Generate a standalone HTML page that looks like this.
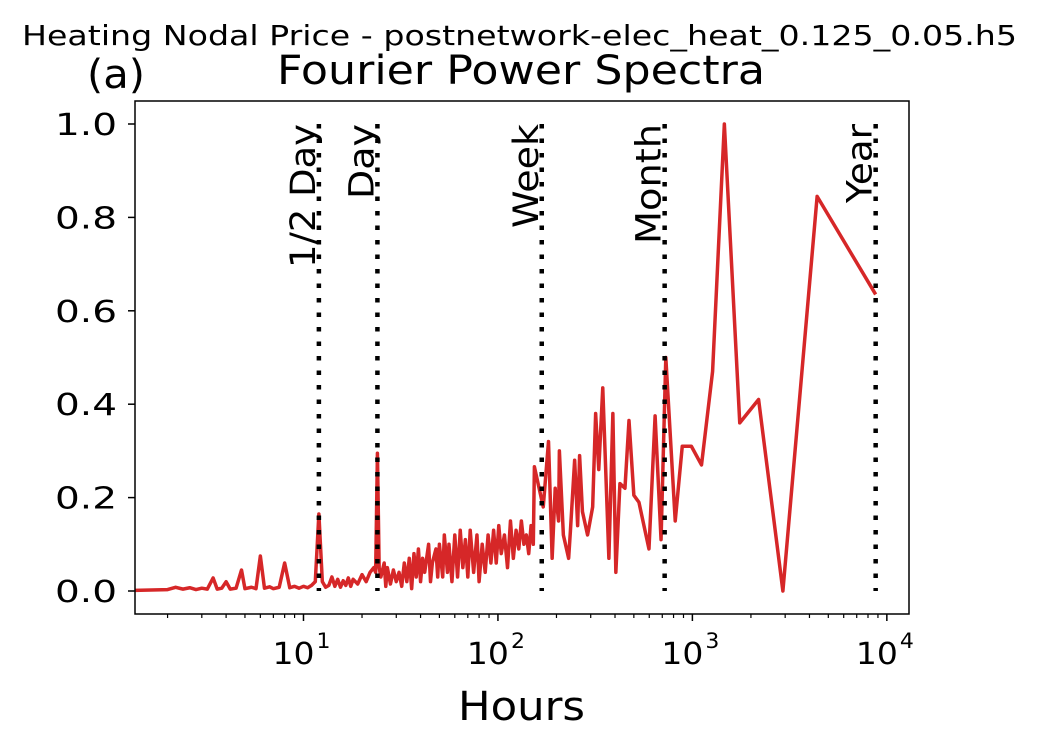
<!DOCTYPE html>
<html><head><meta charset="utf-8"><style>
body{margin:0;background:#fff}
svg text{font-family:"DejaVu Sans","Liberation Sans",sans-serif;fill:#000}
</style></head><body>
<svg id="chart" width="1039" height="748" viewBox="0 0 1039 748" xmlns="http://www.w3.org/2000/svg">
<rect width="1039" height="748" fill="#fff"/>
<text x="22" y="45" font-size="28" textLength="995" lengthAdjust="spacingAndGlyphs">Heating Nodal Price - postnetwork-elec_heat_0.125_0.05.h5</text>
<text x="277" y="84" font-size="40" textLength="488" lengthAdjust="spacingAndGlyphs">Fourier Power Spectra</text>
<text x="87" y="88" font-size="40" textLength="58" lengthAdjust="spacingAndGlyphs">(a)</text>
<text x="458" y="720" font-size="40" textLength="127" lengthAdjust="spacingAndGlyphs">Hours</text>
<g id="plot"></g>
</svg>
<script>
const periods=[1,2,2.2,2.4,2.6,2.8,3.0,3.2,3.43,3.6,3.8,4.0,4.2,4.5,4.8,5.0,5.4,5.7,6.0,6.3,6.7,7.0,7.5,8.0,8.5,9,9.5,10,10.5,11,11.5,12,12.5,13,13.5,14,14.5,15,15.5,16,16.5,17,17.5,18,19,20,21,22,23,23.5,24,24.5,25,26,26.5,27,28,29,30,31,32,33,34,35,36,37,38,39,40,41,42,44,45,46,48,49,50,52,53,55,56,58,60,62,64,66,68,70,72,75,78,80,83,86,89,92,95,98,101,104,108,112,116,120,124,128,132,136,140,144,148,152,154,171,182,190,197,205,207,217,231,236,248,257,263,272,289,307,318,330,346,372,390,404,424,450,472,500,531,598,643,690,730,816,887,988,1114,1270,1460,1752,2190,2920,4380,8760];
const power=[0,0.003,0.008,0.004,0.007,0.003,0.006,0.004,0.028,0.004,0.006,0.02,0.004,0.006,0.045,0.005,0.008,0.005,0.075,0.006,0.009,0.005,0.008,0.06,0.007,0.01,0.006,0.01,0.007,0.012,0.02,0.165,0.02,0.008,0.012,0.03,0.01,0.025,0.008,0.022,0.012,0.028,0.01,0.025,0.015,0.035,0.02,0.04,0.05,0.04,0.295,0.05,0.03,0.06,0.01,0.05,0.015,0.045,0.02,0.04,0.01,0.06,0.02,0.07,0.005,0.08,0.03,0.09,0.02,0.07,0.04,0.1,0.02,0.06,0.09,0.03,0.1,0.03,0.12,0.04,0.1,0.02,0.12,0.03,0.13,0.05,0.11,0.03,0.13,0.04,0.12,0.02,0.1,0.04,0.12,0.06,0.13,0.06,0.14,0.08,0.12,0.05,0.15,0.07,0.13,0.09,0.15,0.1,0.12,0.08,0.14,0.1,0.266,0.18,0.32,0.07,0.22,0.15,0.30,0.12,0.07,0.13,0.28,0.14,0.29,0.17,0.12,0.18,0.38,0.26,0.435,0.07,0.38,0.04,0.23,0.22,0.365,0.205,0.19,0.09,0.375,0.11,0.50,0.15,0.31,0.31,0.27,0.47,1.0,0.36,0.41,0.0,0.845,0.635];
const markerPeriods=[12,24,168,720,8760];
const markerLabels=["1/2 Day","Day","Week","Month","Year"];
const markerLabelLens=[144,75,104,120,79];
const yTicks=[0,0.2,0.4,0.6,0.8,1.0];
const yTickLabels=["0.0","0.2","0.4","0.6","0.8","1.0"];
const xTickExps=[1,2,3,4];

const L=135,R=909,T=101,B=614;
const xMin=Math.log10(1.36),xMax=Math.log10(13000);
function X(p){return L+(Math.log10(p)-xMin)/(xMax-xMin)*(R-L);}
function Y(v){return 591-v*467;}
const ns="http://www.w3.org/2000/svg";
const g=document.getElementById('plot');
function el(t,a){const e=document.createElementNS(ns,t);for(const k in a)e.setAttribute(k,a[k]);g.appendChild(e);return e;}

const clip=el('clipPath',{id:'c'});
const cr=document.createElementNS(ns,'rect');cr.setAttribute('x',L);cr.setAttribute('y',T);cr.setAttribute('width',R-L);cr.setAttribute('height',B-T);clip.appendChild(cr);

let d='';periods.forEach((p,i)=>{d+=(i?'L':'M')+X(p).toFixed(2)+' '+Y(power[i]).toFixed(2);});
const line=el('path',{d:d,fill:'none',stroke:'#d62728','stroke-width':3.5,'stroke-linejoin':'round','clip-path':'url(#c)'});



markerPeriods.forEach((p,i)=>{
  const x=X(p);
  const l=el('line',{x1:x,x2:x,y1:Y(1.0),y2:Y(0),stroke:'#000','stroke-width':4.5,'stroke-dasharray':'4.5 10'});
  
  
  const t=el('text',{x:0,y:0,'font-size':35,'text-anchor':'end',textLength:markerLabelLens[i],lengthAdjust:'spacingAndGlyphs',transform:`translate(${x-4},${Y(1.0)}) rotate(-90)`});
  t.textContent=markerLabels[i];
  
  
});

const frame=el('rect',{x:L,y:T,width:R-L,height:B-T,fill:'none',stroke:'#000','stroke-width':1.5});



yTicks.forEach((v,i)=>{
  const y=Y(v);
  const tk=el('line',{x1:L-7,x2:L,y1:y,y2:y,stroke:'#000','stroke-width':1.5});
  
  
  const t=el('text',{x:L-18,y:y+11,'font-size':30,'text-anchor':'end',textLength:62,lengthAdjust:'spacingAndGlyphs'});
  t.textContent=yTickLabels[i];
  
  
});
for(let e=0;e<=4;e++){for(let m=2;m<=9;m++){const p=m*Math.pow(10,e);const x=X(p);if(x<L||x>R)continue;
  const tk=el('line',{x1:x,x2:x,y1:B,y2:B+4,stroke:'#000','stroke-width':1.2});
  
  }}
xTickExps.forEach(e=>{
  const x=X(Math.pow(10,e));
  const tk=el('line',{x1:x,x2:x,y1:B,y2:B+7,stroke:'#000','stroke-width':1.5});
  
  
  const t=el('text',{x:x-31,y:B+50,'font-size':30,textLength:42,lengthAdjust:'spacingAndGlyphs'});
  t.textContent='10';
  
  
  const s=el('text',{x:x+13,y:B+34,'font-size':21,textLength:14,lengthAdjust:'spacingAndGlyphs'});
  s.textContent=String(e);
  
  
});
</script>
</body></html>
